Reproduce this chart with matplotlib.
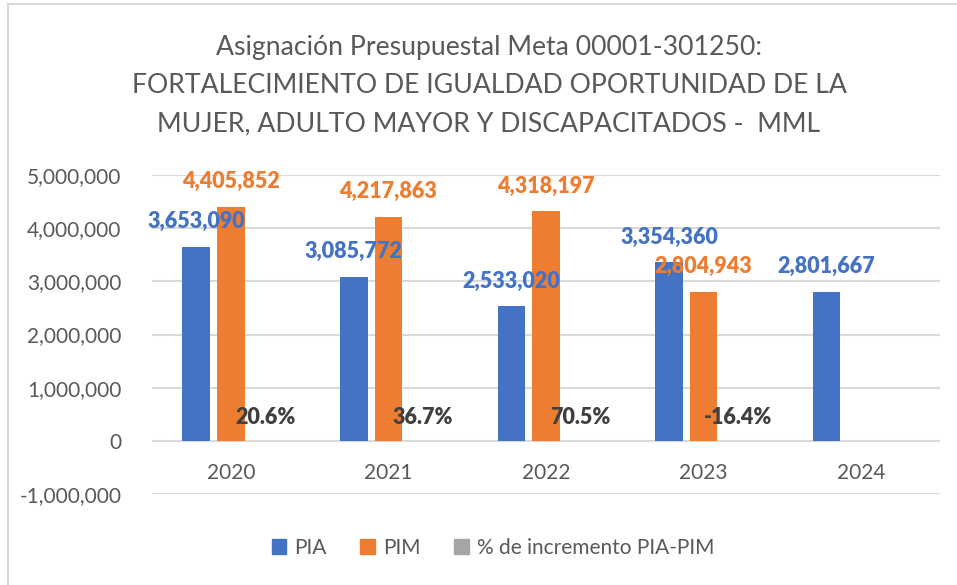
import numpy as np
import matplotlib.pyplot as plt
from matplotlib.lines import Line2D
from matplotlib.patches import Patch

# data
years = ['2020', '2021', '2022', '2023', '2024']
pia = [3653090, 3085772, 2533020, 3354360, 2801667]
pim = [4405852, 4217863, 4318197, 2804943, np.nan]
pct = [0.206, 0.367, 0.705, -0.164, np.nan]

c_pia = '#4472C4'
c_pim = '#ED7D31'
c_pct = '#A5A5A5'
c_txt = '#595959'

plt.rcParams['font.family'] = ['Lato', 'DejaVu Sans']

fig = plt.figure(figsize=(9.57, 5.85), dpi=100)
ax = fig.add_axes([152/957, 1-494/585, 788/957, (494-175)/585])

x = np.arange(len(years))
w = 0.175
off = 0.219
ax.bar(x - off, pia, w, color=c_pia, zorder=3)
ax.bar(x, pim, w, color=c_pim, zorder=3)
ax.bar(x + off, np.nan_to_num(pct), w, color=c_pct, zorder=3)

for i in range(len(years)):
    ax.annotate(f'{pia[i]:,}', (x[i] - off, pia[i]), xytext=(0, 18), textcoords='offset points',
                ha='center', va='center', color=c_pia, fontsize=15.5, fontweight='heavy', zorder=5)
    if not np.isnan(pim[i]):
        ax.annotate(f'{int(pim[i]):,}', (x[i], pim[i]), xytext=(0, 18), textcoords='offset points',
                    ha='center', va='center', color=c_pim, fontsize=15.5, fontweight='heavy', zorder=5)
    if not np.isnan(pct[i]):
        ax.annotate(f'{pct[i]*100:.1f}%', (x[i] + off, 0), xytext=(0, 17), textcoords='offset points',
                    ha='center', va='center', color='#404040', fontsize=15.5, fontweight='heavy', zorder=5)

ax.set_xlim(-0.5, len(years) - 0.5)
ax.set_ylim(-1000000, 5000000)
ax.set_yticks(np.arange(-1000000, 5000001, 1000000))
ax.yaxis.set_major_formatter(plt.FuncFormatter(lambda v, p: f'{int(v):,}'))
ax.tick_params(axis='both', length=0, labelsize=15, colors=c_txt)
ax.tick_params(axis='y', pad=22)
ax.grid(axis='y', color='#d9d9d9', linewidth=1.5, zorder=0)
for s in ax.spines.values():
    s.set_visible(False)

# year labels sit just below the zero line, as in Excel
ax.set_xticks(x)
ax.set_xticklabels([])
for i, yr in enumerate(years):
    ax.annotate(yr, (x[i], 0), xytext=(0, -23), textcoords='offset points',
                ha='center', va='center', color=c_txt, fontsize=15)

title = ['Asignación Presupuestal Meta 00001-301250:',
         'FORTALECIMIENTO DE IGUALDAD OPORTUNIDAD DE LA',
         'MUJER, ADULTO MAYOR Y DISCAPACITADOS -  MML']
for k, line in enumerate(title):
    fig.text(489/957, 1 - (47 + 38.5*k)/585, line, ha='center', va='center',
             fontsize=19.2, color=c_txt)

handles = [Patch(color=c_pia, label='PIA'), Patch(color=c_pim, label='PIM'),
           Patch(color=c_pct, label='% de incremento PIA-PIM')]
fig.legend(handles=handles, loc='center', bbox_to_anchor=(493/957, 1-548/585), ncol=3,
           frameon=False, fontsize=15, labelcolor=c_txt, handlelength=0.7, handleheight=0.7,
           columnspacing=1.6, handletextpad=0.4)

# chart border (top and left visible in the crop)
fig.add_artist(Line2D([8/957, 1], [1-4/585, 1-4/585], color='#d9d9d9', lw=1.5, transform=fig.transFigure))
fig.add_artist(Line2D([8/957, 8/957], [0, 1-4/585], color='#d9d9d9', lw=1.5, transform=fig.transFigure))

fig.savefig('out.png', dpi=100)
